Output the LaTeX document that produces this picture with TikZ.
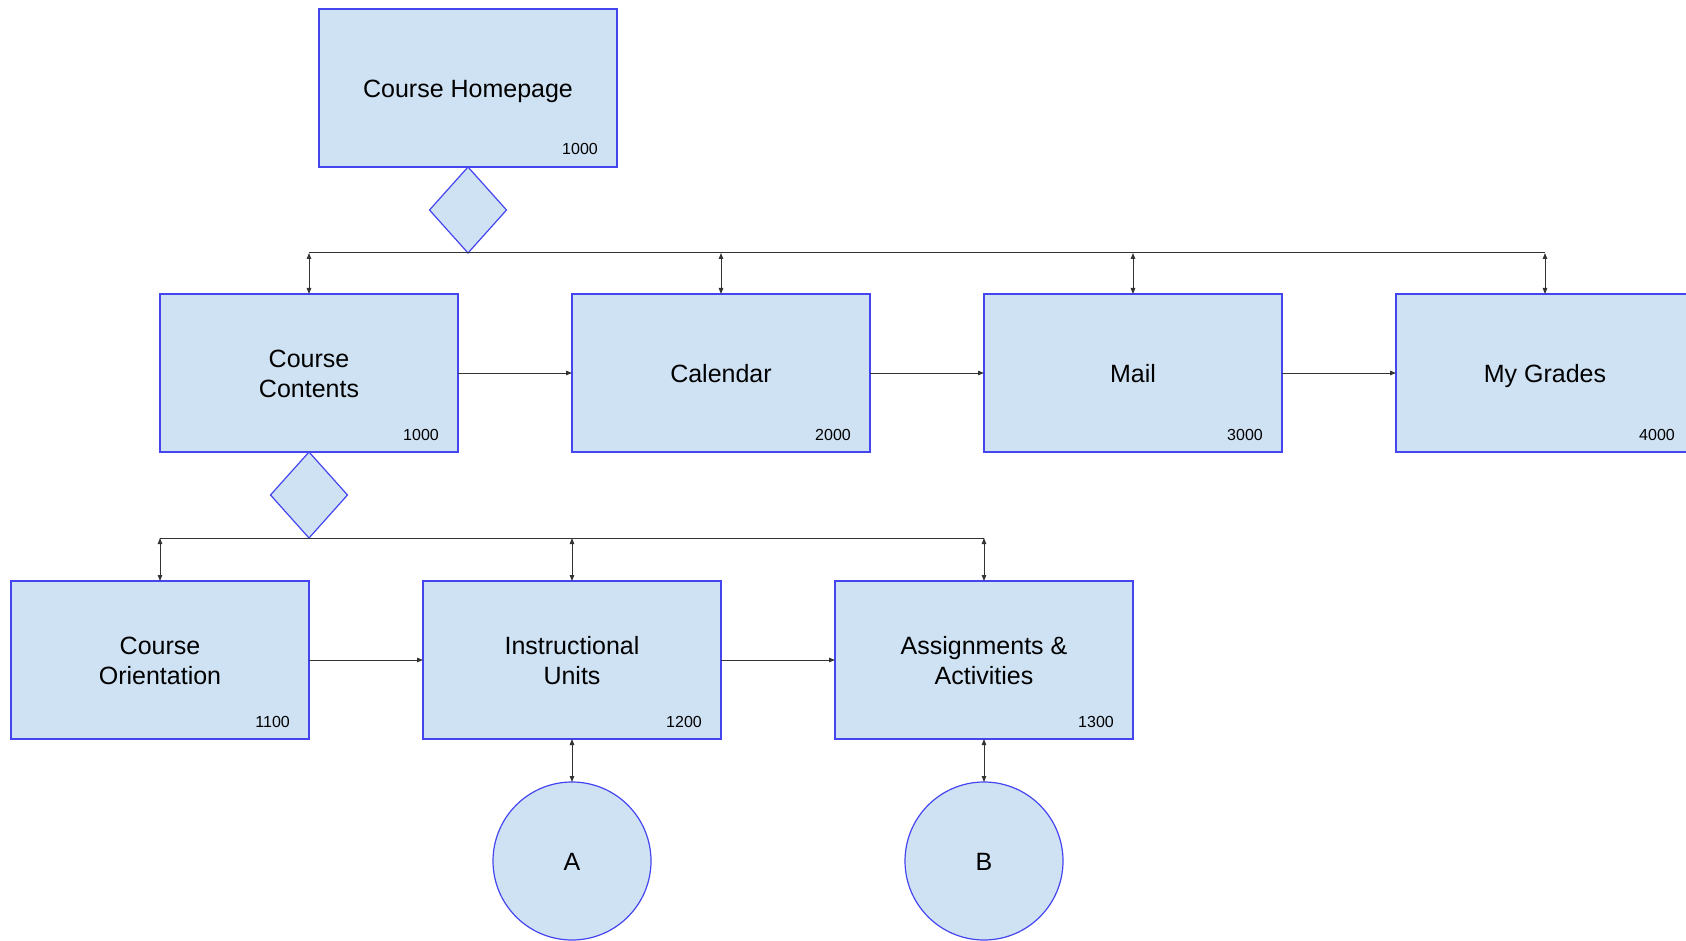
\documentclass[tikz,border=0pt]{standalone}
\usepackage{fontspec}
\setmainfont{Liberation Sans}
\usetikzlibrary{shapes.geometric,arrows.meta}
\definecolor{boxfill}{HTML}{CFE2F3}
\definecolor{boxline}{HTML}{4545F0}
\definecolor{conn}{HTML}{333333}
\begin{document}
\begin{tikzpicture}[x=1pt,y=-1pt,
 box/.style={draw=boxline, fill=boxfill, line width=1.2pt, minimum width=298pt, minimum height=158pt, inner sep=0pt, outer sep=0pt, align=center, font=\fontsize{25}{30}\selectfont},
 oneline/.style={text height=23.5pt, text depth=5.3pt},
 dia/.style={diamond, draw=boxline, fill=boxfill, line width=1.2pt, minimum width=77pt, minimum height=86pt, inner sep=0pt, outer sep=0pt},
 circ/.style={circle, draw=boxline, fill=boxfill, line width=1.2pt, minimum size=158pt, inner sep=0pt, outer sep=0pt, font=\fontsize{25}{30}\selectfont, text height=23.5pt, text depth=5.3pt},
 num/.style={anchor=base east, inner sep=0pt, font=\fontsize{16}{19}\selectfont},
 link/.style={draw=conn, line width=1pt},
 onearrow/.style={-{Triangle[length=6pt,width=4.5pt]}},
 twoarrow/.style={{Triangle[length=6pt,width=4.5pt]}-{Triangle[length=6pt,width=4.5pt]}}
]
\useasboundingbox (0,0) rectangle (1686,941);

\node[box,oneline] (home) at (468,88) {Course Homepage};
\node[dia, anchor=north] (d1) at (home.south) {};

\node[box] (cc) at (309,373) {\rule{0pt}{20pt}Course\\Contents};
\node[box,oneline] (cal) at (721,373) {Calendar};
\node[box,oneline] (mail) at (1133,373) {Mail};
\node[box,oneline] (grades) at (1545,373) {My Grades};
\node[dia, anchor=north] (d2) at (cc.south) {};

\node[box] (co) at (160,660) {\rule{0pt}{20pt}Course\\Orientation};
\node[box] (iu) at (572,660) {\rule{0pt}{20pt}Instructional\\Units};
\node[box] (aa) at (984,660) {\rule{0pt}{20pt}Assignments \&\\Activities};

\node[circ] (A) at (572,861) {A};
\node[circ] (B) at (984,861) {B};

\node[num] (nhome) at ([xshift=-19pt,yshift=12pt]home.south east) {1000};
\node[num] (ncc) at ([xshift=-19pt,yshift=12pt]cc.south east) {1000};
\node[num] (ncal) at ([xshift=-19pt,yshift=12pt]cal.south east) {2000};
\node[num] (nmail) at ([xshift=-19pt,yshift=12pt]mail.south east) {3000};
\node[num] (ngrades) at ([xshift=-19pt,yshift=12pt]grades.south east) {4000};
\node[num] (nco) at ([xshift=-19pt,yshift=12pt]co.south east) {1100};
\node[num] (niu) at ([xshift=-19pt,yshift=12pt]iu.south east) {1200};
\node[num] (naa) at ([xshift=-19pt,yshift=12pt]aa.south east) {1300};

% top level bus
\draw[link] (cc.north |- d1.south) -- (grades.north |- d1.south);
\foreach \n in {cc,cal,mail,grades}
  \draw[link,twoarrow] (\n.north |- d1.south) -- (\n.north);
\draw[link,onearrow] (cc.east) -- (cal.west);
\draw[link,onearrow] (cal.east) -- (mail.west);
\draw[link,onearrow] (mail.east) -- (grades.west);

% second level bus
\draw[link] (co.north |- d2.south) -- (aa.north |- d2.south);
\foreach \n in {co,iu,aa}
  \draw[link,twoarrow] (\n.north |- d2.south) -- (\n.north);
\draw[link,onearrow] (co.east) -- (iu.west);
\draw[link,onearrow] (iu.east) -- (aa.west);

\draw[link,twoarrow] (iu.south) -- (A.north);
\draw[link,twoarrow] (aa.south) -- (B.north);
\end{tikzpicture}
\end{document}
